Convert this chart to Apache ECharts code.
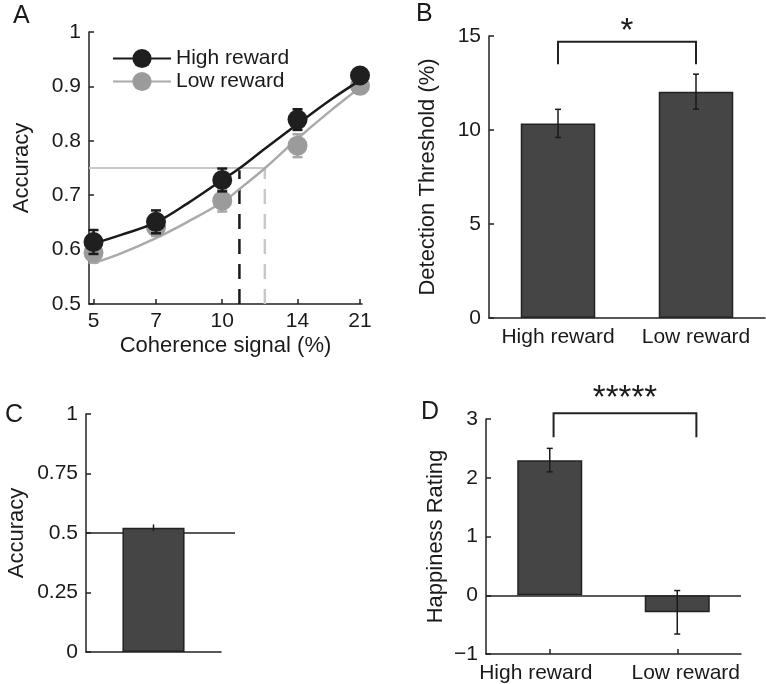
<!DOCTYPE html>
<html><head><meta charset="utf-8">
<script src="https://cdn.jsdelivr.net/npm/echarts@6/dist/echarts.min.js"></script>
<style>html,body{margin:0;padding:0;background:#fff}#c{width:766px;height:684px}</style>
</head><body><div id="c"></div>
<script>
// ---------- Panel A data ----------
const coherenceLevels = [5, 7, 10, 15, 21];
const coherenceTickLabels = ['5', '7', '10', '14', '21'];
const highAcc = [0.614, 0.651, 0.728, 0.839, 0.920];
const highAccErr = [0.022, 0.021, 0.021, 0.019, 0.010];
const lowAcc = [0.594, 0.641, 0.690, 0.791, 0.901];
const lowAccErr = [0.018, 0.016, 0.020, 0.021, 0.011];
const fitX = [5, 5.8, 7, 8.3, 10, 11, 12.6, 14.9, 17.9, 21];
const highFit = [0.611, 0.627, 0.650, 0.685, 0.728, 0.750, 0.786, 0.829, 0.875, 0.911];
const lowFit = [0.575, 0.593, 0.621, 0.651, 0.687, 0.712, 0.750, 0.802, 0.855, 0.898];
const criterionAcc = 0.75;
const highThreshold = 10.97;
const lowThreshold = 12.58;
const seriesNames = ['High reward', 'Low reward'];

// ---------- Panel B data ----------
const rewardCategories = ['High reward', 'Low reward'];
const thresholdMean = [10.35, 12.04];
const thresholdErr = [0.75, 0.93];
const bBracket = [0, 1, 13.5, 14.7];
const bSig = '*';

// ---------- Panel C data ----------
const cCategories = ['Task'];
const cAccuracy = [0.522];
const cAccuracyErr = [0.014];
const chanceLevel = 0.5;

// ---------- Panel D data ----------
const happinessMean = [2.30, -0.29];
const happinessErr = [0.20, 0.37];
const dBracket = [0.03, 1.15, 2.69, 3.10];
const dSig = '*****';

// ---------- helpers ----------
const FONT = "'Liberation Sans', Arial, Helvetica, sans-serif";
const TXT = '#1a1a1a';
const AX = '#222';
const ln = Math.log;
const xMinA = 1.5851, xMaxA = 3.0553;

function yAxisCfg(gridIndex, min, max, interval, name, nameGap, extra) {
  return Object.assign({
    type: 'value', gridIndex, min, max, interval, name,
    nameLocation: 'middle', nameGap,
    nameTextStyle: { fontSize: 22, color: TXT, fontFamily: FONT },
    axisLine: { show: true, onZero: false, lineStyle: { color: AX, width: 1.5 } },
    axisTick: { show: true, inside: true, length: 5, lineStyle: { color: AX, width: 1.5 } },
    axisLabel: { fontSize: 21, color: TXT, margin: 8, fontFamily: FONT },
    splitLine: { show: false }
  }, extra || {});
}

function errRender(capHalf, color, width) {
  return function (params, api) {
    const x = api.value(0), v = api.value(1), e = api.value(2);
    const top = api.coord([x, v + e]), bot = api.coord([x, v - e]);
    const style = { stroke: color, lineWidth: width, fill: null };
    return { type: 'group', children: [
      { type: 'line', shape: { x1: top[0], y1: top[1], x2: bot[0], y2: bot[1] }, style },
      { type: 'line', shape: { x1: top[0] - capHalf, y1: top[1], x2: top[0] + capHalf, y2: top[1] }, style },
      { type: 'line', shape: { x1: bot[0] - capHalf, y1: bot[1], x2: bot[0] + capHalf, y2: bot[1] }, style }
    ]};
  };
}

function bracketRender(label, fontSize, textLift) {
  return function (params, api) {
    const x0 = api.value(0), x1 = api.value(1), lo = api.value(2), hi = api.value(3);
    const p0 = api.coord([x0, lo]), p1 = api.coord([x0, hi]), p2 = api.coord([x1, hi]), p3 = api.coord([x1, lo]);
    return { type: 'group', children: [
      { type: 'polyline', shape: { points: [p0, p1, p2, p3] }, style: { stroke: AX, lineWidth: 2, fill: null } },
      { type: 'text', x: (p1[0] + p2[0]) / 2, y: p1[1] - textLift,
        style: { text: label, fontSize, fontFamily: FONT, fill: TXT, align: 'center', verticalAlign: 'middle' } }
    ]};
  };
}

const chart = echarts.init(document.getElementById('c'), null, { renderer: 'canvas' });

const option = {
  animation: false,
  backgroundColor: '#fff',
  textStyle: { fontFamily: FONT, color: TXT },
  title: [
    { text: 'A', left: 13, top: 4, padding: 0, textStyle: { fontSize: 25, fontWeight: 'normal', color: TXT, fontFamily: FONT } },
    { text: 'B', left: 416, top: 2, padding: 0, textStyle: { fontSize: 25, fontWeight: 'normal', color: TXT, fontFamily: FONT } },
    { text: 'C', left: 5, top: 403, padding: 0, textStyle: { fontSize: 25, fontWeight: 'normal', color: TXT, fontFamily: FONT } },
    { text: 'D', left: 421, top: 400, padding: 0, textStyle: { fontSize: 25, fontWeight: 'normal', color: TXT, fontFamily: FONT } }
  ],
  legend: {
    data: seriesNames, orient: 'vertical', left: 112, top: 48, padding: 0,
    itemWidth: 58, itemHeight: 24, itemGap: 2, selectedMode: false,
    textStyle: { fontSize: 21, color: TXT, fontFamily: FONT }
  },
  grid: [
    { left: 89, top: 32, width: 273, height: 272, outerBoundsMode: 'none' },
    { left: 489, top: 36, width: 276, height: 282, outerBoundsMode: 'none' },
    { left: 86, top: 414, width: 135, height: 238, outerBoundsMode: 'none' },
    { left: 86, top: 414, width: 149, height: 238, outerBoundsMode: 'none' },
    { left: 486, top: 419, width: 255, height: 235, outerBoundsMode: 'none' }
  ],
  xAxis: [
    { type: 'value', gridIndex: 0, min: xMinA, max: xMaxA,
      name: 'Coherence signal (%)', nameLocation: 'middle', nameGap: 31,
      nameTextStyle: { fontSize: 22, color: TXT, fontFamily: FONT },
      axisLine: { show: true, onZero: false, lineStyle: { color: AX, width: 1.5 } },
      axisTick: { show: true, inside: true, length: 5, customValues: coherenceLevels.map(ln), lineStyle: { color: AX, width: 1.5 } },
      axisLabel: { fontSize: 21, color: TXT, margin: 7, fontFamily: FONT, customValues: coherenceLevels.map(ln),
        formatter: function (v) {
          let best = 0;
          coherenceLevels.forEach((c, i) => { if (Math.abs(ln(c) - v) < Math.abs(ln(coherenceLevels[best]) - v)) best = i; });
          return coherenceTickLabels[best];
        } },
      splitLine: { show: false } },
    { type: 'category', gridIndex: 1, data: rewardCategories,
      axisLine: { show: true, onZero: false, lineStyle: { color: AX, width: 1.5 } },
      axisTick: { show: false },
      axisLabel: { fontSize: 21, color: TXT, margin: 9, fontFamily: FONT, interval: 0, hideOverlap: false } },
    { type: 'category', gridIndex: 2, data: cCategories,
      axisLine: { show: true, onZero: false, lineStyle: { color: AX, width: 1.5 } },
      axisTick: { show: false }, axisLabel: { show: false } },
    { type: 'value', gridIndex: 3, min: 0, max: 1, show: false },
    { type: 'category', gridIndex: 4, data: rewardCategories.map((c, i) => ({ value: c, textStyle: { padding: i === 0 ? [0, 28, 0, 0] : [0, 0, 0, 17] } })),
      axisLine: { show: true, onZero: false, lineStyle: { color: AX, width: 1.5 } },
      axisTick: { show: true, inside: true, length: 5, alignWithLabel: true, interval: 0, lineStyle: { color: AX, width: 1.5 } },
      axisLabel: { fontSize: 21, color: TXT, margin: 9, fontFamily: FONT, interval: 0, hideOverlap: false } },
    { type: 'value', gridIndex: 4, min: -0.5, max: 1.5, show: false }
  ],
  yAxis: [
    yAxisCfg(0, 0.5, 1, 0.1, 'Accuracy', 56),
    yAxisCfg(1, 0, 15, 5, 'Detection Threshold (%)', 50),
    yAxisCfg(2, 0, 1, 0.25, 'Accuracy', 58),
    { type: 'value', gridIndex: 3, min: 0, max: 1, show: false },
    yAxisCfg(4, -1, 3, 1, 'Happiness Rating', 39, {
      axisLabel: { fontSize: 21, color: TXT, margin: 8, fontFamily: FONT, formatter: v => String(v).replace('-', '\u2212') } })
  ],
  series: [
    // ---- Panel A ----
    { type: 'line', name: 'High reward', xAxisIndex: 0, yAxisIndex: 0, z: 5,
      data: fitX.map((x, i) => [ln(x), highFit[i]]), smooth: 0.35,
      symbol: 'circle', showSymbol: false, symbolSize: 20,
      lineStyle: { color: '#1a1a1a', width: 2.5 }, itemStyle: { color: '#1f1f1f' } },
    { type: 'line', name: 'Low reward', xAxisIndex: 0, yAxisIndex: 0, z: 2,
      data: fitX.map((x, i) => [ln(x), lowFit[i]]), smooth: 0.35,
      symbol: 'circle', showSymbol: false, symbolSize: 20,
      lineStyle: { color: '#aaaaaa', width: 2.5 }, itemStyle: { color: '#9b9b9b' } },
    { type: 'line', name: 'criterion', xAxisIndex: 0, yAxisIndex: 0, z: 1, symbol: 'none',
      data: [[xMinA, criterionAcc], [ln(lowThreshold), criterionAcc]],
      lineStyle: { color: '#c8c8c8', width: 2 } },
    { type: 'line', name: 'lowThr', xAxisIndex: 0, yAxisIndex: 0, z: 1, symbol: 'none',
      data: [[ln(lowThreshold), 0.5], [ln(lowThreshold), criterionAcc]],
      lineStyle: { color: '#c8c8c8', width: 2.5, type: [15, 10] } },
    { type: 'line', name: 'highThr', xAxisIndex: 0, yAxisIndex: 0, z: 1, symbol: 'none',
      data: [[ln(highThreshold), 0.5], [ln(highThreshold), criterionAcc - 0.004]],
      lineStyle: { color: '#1a1a1a', width: 2.5, type: [15, 10] } },
    { type: 'custom', name: 'lowErr', xAxisIndex: 0, yAxisIndex: 0, z: 3,
      renderItem: errRender(5, '#a8a8a8', 2.5),
      data: coherenceLevels.map((c, i) => [ln(c), lowAcc[i], lowAccErr[i]]) },
    { type: 'scatter', name: 'Low reward', xAxisIndex: 0, yAxisIndex: 0, z: 4,
      data: coherenceLevels.map((c, i) => [ln(c), lowAcc[i]]), symbolSize: 20,
      itemStyle: { color: '#9b9b9b', opacity: 1 } },
    { type: 'custom', name: 'highErr', xAxisIndex: 0, yAxisIndex: 0, z: 6,
      renderItem: errRender(5, '#1a1a1a', 2.5),
      data: coherenceLevels.map((c, i) => [ln(c), highAcc[i], highAccErr[i]]) },
    { type: 'scatter', name: 'High reward', xAxisIndex: 0, yAxisIndex: 0, z: 7,
      data: coherenceLevels.map((c, i) => [ln(c), highAcc[i]]), symbolSize: 20,
      itemStyle: { color: '#1f1f1f', opacity: 1 } },

    // ---- Panel B ----
    { type: 'bar', name: 'threshold', xAxisIndex: 1, yAxisIndex: 1, data: thresholdMean, barWidth: '54%',
      itemStyle: { color: '#454545', borderColor: '#222', borderWidth: 1.5 } },
    { type: 'custom', name: 'thrErr', xAxisIndex: 1, yAxisIndex: 1, z: 5,
      renderItem: errRender(3, '#1a1a1a', 1.5),
      data: thresholdMean.map((m, i) => [i, m, thresholdErr[i]]) },
    { type: 'custom', name: 'bBracket', xAxisIndex: 1, yAxisIndex: 1, z: 5, clip: false,
      renderItem: bracketRender(bSig, 33, 10),
      data: [bBracket] },

    // ---- Panel C ----
    { type: 'line', name: 'chance', xAxisIndex: 3, yAxisIndex: 3, z: 1, symbol: 'none',
      data: [[0, chanceLevel], [1, chanceLevel]], lineStyle: { color: AX, width: 1.5 } },
    { type: 'bar', name: 'accuracyC', xAxisIndex: 2, yAxisIndex: 2, z: 3, data: cAccuracy, barWidth: '46%',
      itemStyle: { color: '#454545', borderColor: '#222', borderWidth: 1.5 } },
    { type: 'custom', name: 'cErr', xAxisIndex: 2, yAxisIndex: 2, z: 5,
      renderItem: errRender(0, '#1a1a1a', 1.5),
      data: cAccuracy.map((m, i) => [i, m, cAccuracyErr[i]]) },

    // ---- Panel D ----
    { type: 'bar', name: 'happiness', xAxisIndex: 4, yAxisIndex: 4, z: 3, data: happinessMean, barWidth: '51%',
      itemStyle: { color: '#454545', borderColor: '#222', borderWidth: 1.5 },
      markLine: { silent: true, symbol: 'none', label: { show: false }, z: 2,
        lineStyle: { color: AX, width: 1.5, type: 'solid' }, data: [{ yAxis: 0 }] } },
    { type: 'custom', name: 'dErr', xAxisIndex: 4, yAxisIndex: 4, z: 5,
      renderItem: errRender(3, '#1a1a1a', 1.5),
      data: happinessMean.map((m, i) => [i, m, happinessErr[i]]) },
    { type: 'custom', name: 'dBracket', xAxisIndex: 5, yAxisIndex: 4, z: 5, clip: false,
      renderItem: bracketRender(dSig, 33, 14),
      data: [dBracket] }
  ]
};
chart.setOption(option);
</script>
</body></html>
